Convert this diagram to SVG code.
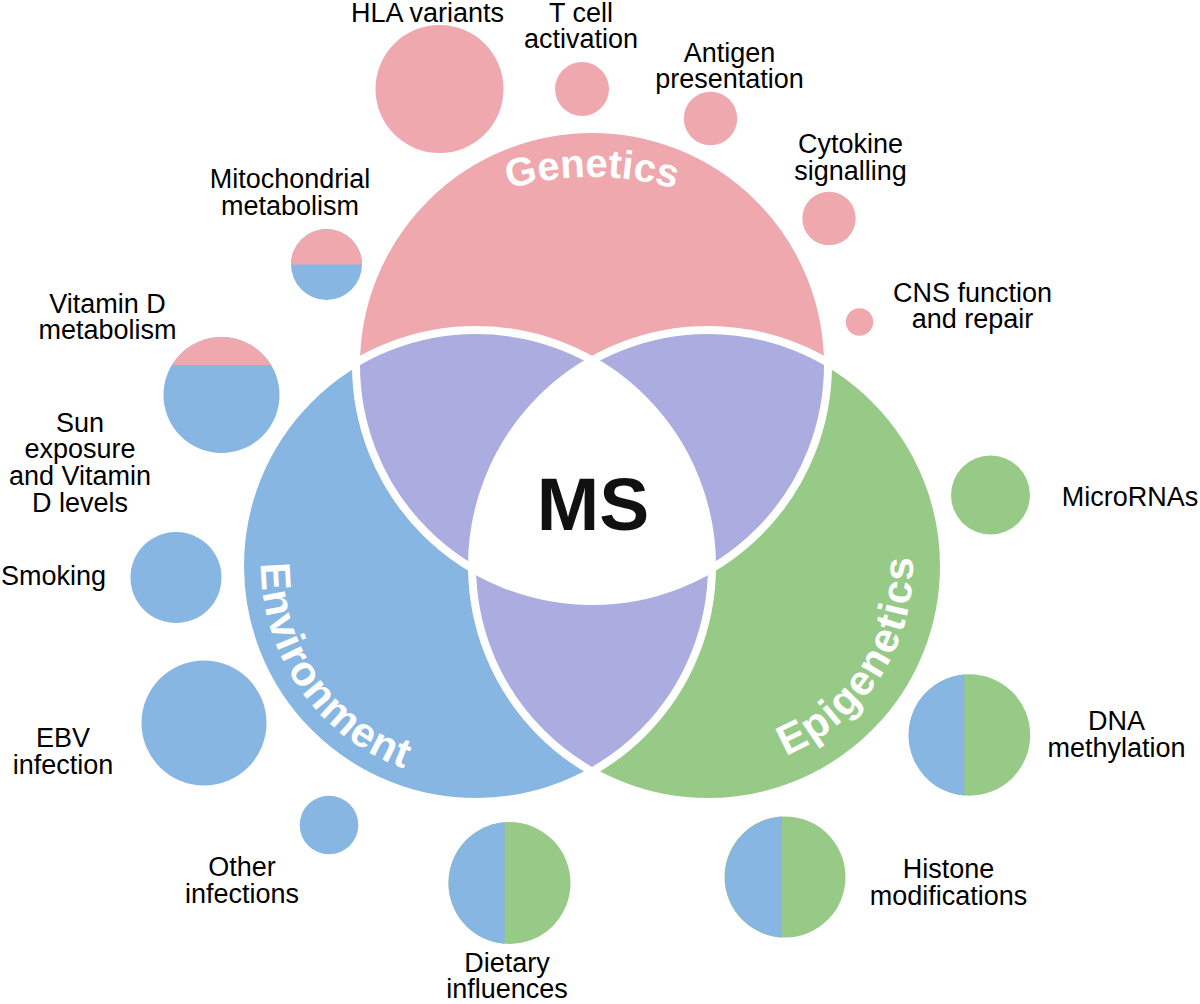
<svg xmlns="http://www.w3.org/2000/svg" width="1200" height="1004" viewBox="0 0 1200 1004">
<defs>
<style>
.pk{fill:#EFA9AE}
.bl{fill:#86B6E1}
.gr{fill:#97CA87}
.pu{fill:#ABADE0}
.sep{fill:none;stroke:#fff;stroke-width:8}
.lbl{font-family:"Liberation Sans",Arial,sans-serif;font-size:27px;fill:#000;text-anchor:middle}
.big{font-family:"Liberation Sans",Arial,sans-serif;font-weight:bold;fill:#fff}
</style>
<clipPath id="cP"><circle cx="592" cy="365" r="236"/></clipPath>
<clipPath id="cB"><circle cx="476" cy="566" r="236"/></clipPath>
<path id="pGen" d="M292 477 A300 300 0 0 1 892 477"/>
<path id="pEnv" d="M264.3 528.7 A215 215 0 0 0 438.7 777.7"/>
<path id="pEpi" d="M752.4 766.1 A205 205 0 0 0 908.1 521.6"/>
</defs>
<rect width="1200" height="1004" fill="#fff"/>

<g id="venn">
<circle class="pk" cx="592" cy="365" r="236"/>
<circle class="bl" cx="476" cy="566" r="236"/>
<circle class="gr" cx="708" cy="566" r="236"/>
<circle class="pu" cx="476" cy="566" r="236" clip-path="url(#cP)"/>
<circle class="pu" cx="708" cy="566" r="236" clip-path="url(#cP)"/>
<circle class="pu" cx="708" cy="566" r="236" clip-path="url(#cB)"/>
<path fill="#fff" d="M592 360.5 A236 236 0 0 1 712 568.2 A236 236 0 0 1 472 568.2 A236 236 0 0 1 592 360.5Z"/>
<circle class="sep" cx="592" cy="365" r="236"/>
<circle class="sep" cx="476" cy="566" r="236"/>
<circle class="sep" cx="708" cy="566" r="236"/>
</g>

<g id="genetics-label"><text class="big" font-size="40"><textPath href="#pGen" startOffset="50%" text-anchor="middle">Genetics</textPath></text></g>
<g id="environment-label"><text class="big" font-size="42" letter-spacing="1"><textPath href="#pEnv" startOffset="50%" text-anchor="middle">Environment</textPath></text></g>
<g id="epigenetics-label"><text class="big" font-size="42" letter-spacing="1.5"><textPath href="#pEpi" startOffset="50%" text-anchor="middle">Epigenetics</textPath></text></g>
<g id="ms"><text x="593" y="530" font-family="'Liberation Sans',Arial,sans-serif" font-weight="bold" font-size="75" fill="#111" text-anchor="middle">MS</text></g>

<g id="hla">
<circle class="pk" cx="439.5" cy="89" r="64"/>
<text class="lbl" x="427.5" y="22">HLA variants</text>
</g>
<g id="tcell">
<circle class="pk" cx="582" cy="89" r="27"/>
<text class="lbl" x="581" y="21.7">T cell<tspan x="581" dy="26.6">activation</tspan></text>
</g>
<g id="antigen">
<circle class="pk" cx="710.5" cy="118.5" r="26.7"/>
<text class="lbl" x="729.5" y="61.7">Antigen<tspan x="729.5" dy="26.6">presentation</tspan></text>
</g>
<g id="cytokine">
<circle class="pk" cx="829" cy="218.5" r="26.7"/>
<text class="lbl" x="850.5" y="153.3">Cytokine<tspan x="850.5" dy="26.6">signalling</tspan></text>
</g>
<g id="cns">
<circle class="pk" cx="859.5" cy="322" r="13.7"/>
<text class="lbl" x="972.5" y="301.7">CNS function<tspan x="972.5" dy="26.6">and repair</tspan></text>
</g>
<g id="mito">
<circle class="bl" cx="326.5" cy="264.5" r="35.5"/>
<path class="pk" d="M291 264.5 A35.5 35.5 0 0 1 362 264.5Z"/>
<text class="lbl" x="290" y="188.3">Mitochondrial<tspan x="290" dy="26.6">metabolism</tspan></text>
</g>
<g id="vitd">
<circle class="bl" cx="221.5" cy="395" r="58"/>
<path class="pk" d="M171.9 365 A58 58 0 0 1 271.1 365Z"/>
<text class="lbl" x="107.5" y="312.5">Vitamin D<tspan x="107.5" dy="26.6">metabolism</tspan></text>
</g>
<g id="sun">
<text class="lbl" x="80" y="431.7">Sun<tspan x="80" dy="26.6">exposure</tspan><tspan x="80" dy="26.6">and Vitamin</tspan><tspan x="80" dy="26.6">D levels</tspan></text>
</g>
<g id="smoking">
<circle class="bl" cx="176" cy="577.5" r="45.5"/>
<text class="lbl" x="53.5" y="585">Smoking</text>
</g>
<g id="ebv">
<circle class="bl" cx="204" cy="723" r="62.5"/>
<text class="lbl" x="63" y="747.3">EBV<tspan x="63" dy="26.6">infection</tspan></text>
</g>
<g id="other">
<circle class="bl" cx="329" cy="825" r="29.3"/>
<text class="lbl" x="242" y="876">Other<tspan x="242" dy="26.6">infections</tspan></text>
</g>
<g id="dietary">
<circle class="gr" cx="509.5" cy="883" r="61"/>
<path class="bl" d="M504.6 822.2 A61 61 0 0 0 504.6 943.8Z"/>
<text class="lbl" x="507" y="971.5">Dietary<tspan x="507" dy="26.5">influences</tspan></text>
</g>
<g id="histone">
<circle class="gr" cx="785" cy="877" r="60.5"/>
<path class="bl" d="M782 816.6 A60.5 60.5 0 0 0 782 937.4Z"/>
<text class="lbl" x="948.5" y="878.3">Histone<tspan x="948.5" dy="26.6">modifications</tspan></text>
</g>
<g id="microrna">
<circle class="gr" cx="990.5" cy="495" r="39.5"/>
<text class="lbl" x="1130" y="505.7">MicroRNAs</text>
</g>
<g id="dna">
<circle class="gr" cx="969.5" cy="735" r="60.7"/>
<path class="bl" d="M964.3 674.5 A60.7 60.7 0 0 0 964.3 795.5Z"/>
<text class="lbl" x="1116.5" y="730">DNA<tspan x="1116.5" dy="26.6">methylation</tspan></text>
</g>
<g id="connectors"/>
</svg>
